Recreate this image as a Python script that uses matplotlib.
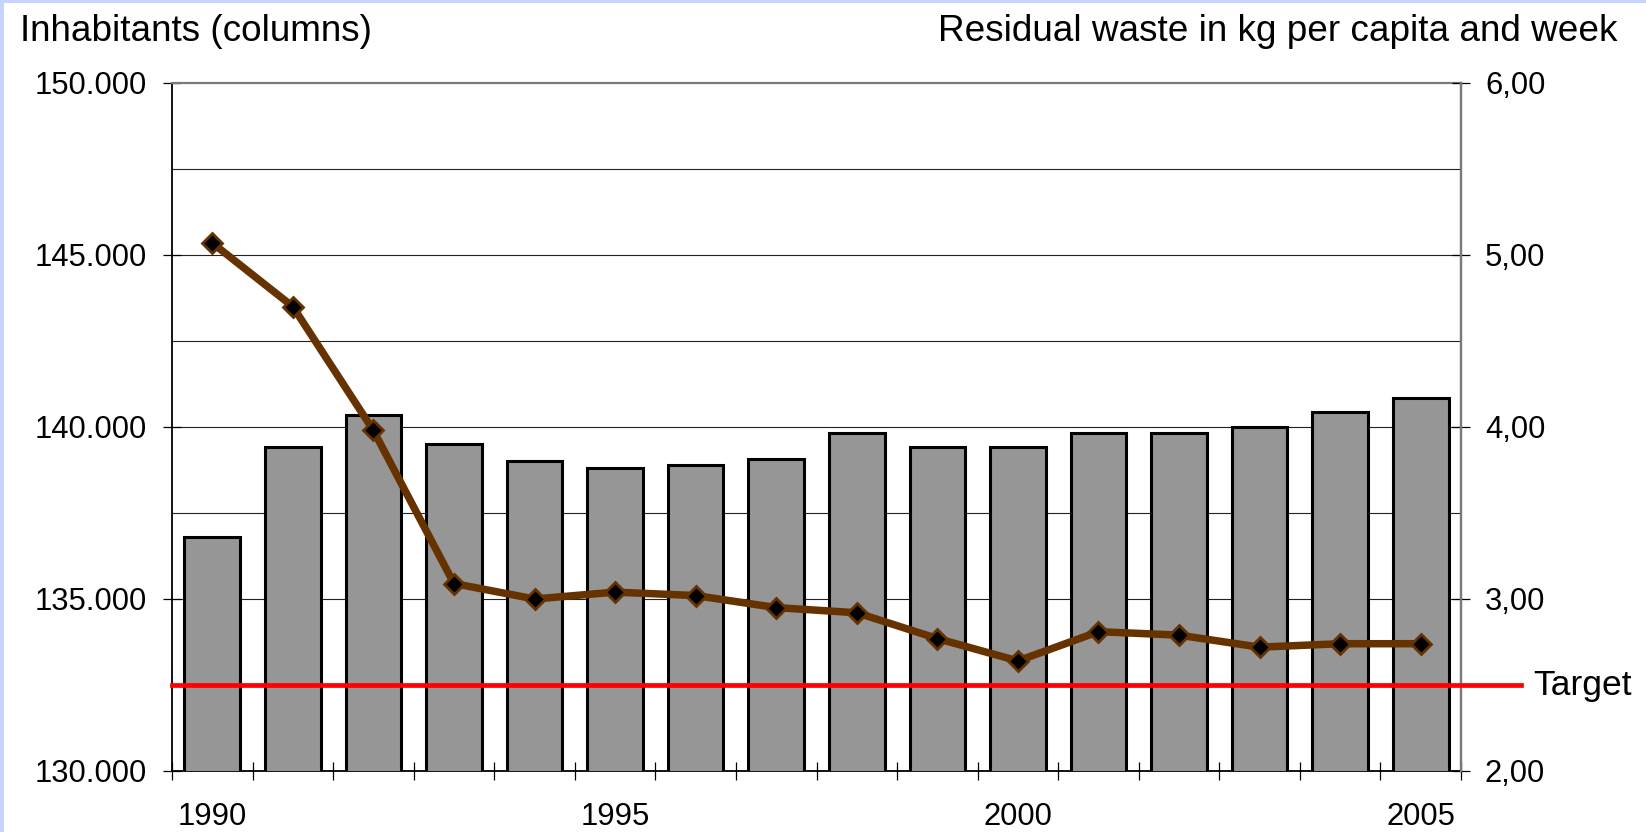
import numpy as np
import matplotlib.pyplot as plt
from matplotlib.patches import Rectangle
import matplotlib.transforms as mtransforms

plt.rcParams['font.family'] = ['Liberation Sans', 'DejaVu Sans']

# inhabitants (columns) and residual waste per capita and week (line)
years = [1990, 1991, 1992, 1993, 1994, 1995, 1996, 1997,
         1998, 1999, 2000, 2001, 2002, 2003, 2004, 2005]
inhabitants = [136800, 139410, 140340, 139500, 139000, 138820, 138900, 139080,
               139840, 139410, 139410, 139840, 139840, 140000, 140430, 140840]
waste_kg = [5.07, 4.70, 3.98, 3.09, 3.00, 3.04, 3.02, 2.95,
            2.92, 2.77, 2.64, 2.81, 2.79, 2.72, 2.74, 2.74]
target_kg = 2.5

left_ticks = [130000, 135000, 140000, 145000, 150000]
left_labels = ['130.000', '135.000', '140.000', '145.000', '150.000']
right_ticks = [2, 3, 4, 5, 6]
right_labels = ['2,00', '3,00', '4,00', '5,00', '6,00']
year_labels = ['1990', '1995', '2000', '2005']

fig = plt.figure(figsize=(16.46, 8.32), dpi=100)
fig.patch.set_facecolor('white')
# light blue slide frame at left/top
fig.patches.append(Rectangle((0, 0), 4 / 1646, 1, transform=fig.transFigure,
                             facecolor='#c6d3fa', edgecolor='none', zorder=0))
fig.patches.append(Rectangle((0, 1 - 3 / 832), 1, 3 / 832, transform=fig.transFigure,
                             facecolor='#c6d3fa', edgecolor='none', zorder=0))

ax = fig.add_axes([172 / 1646, 61 / 832, 1289 / 1646, 688 / 832])
x = np.arange(len(years))

ax.bar(x, inhabitants, width=0.69, color='#969696', edgecolor='black',
       linewidth=2.2, zorder=3)
ax.set_xlim(-0.5, len(years) - 0.5)
ax.set_ylim(130000, 150000)

# horizontal gridlines every 2500
for g in np.arange(132500, 150000, 2500):
    ax.axhline(g, color='#222222', linewidth=0.8, zorder=1)

ax.set_yticks(left_ticks)
ax.set_yticklabels(left_labels)
ax.tick_params(axis='y', direction='inout', length=12.5, width=0.9,
               labelsize=22.3, pad=11.5, colors='black')

# category boundary ticks on the x axis, year labels centred on columns
ax.set_xticks(np.arange(-0.5, len(years) + 0.5, 1))
ax.set_xticklabels([])
ax.tick_params(axis='x', which='major', direction='inout', length=12.5, width=0.9)
ax.set_xticks([years.index(int(y)) for y in year_labels], minor=True)
ax.set_xticklabels(year_labels, minor=True)
ax.tick_params(axis='x', which='minor', length=0, labelsize=22.3, pad=22)

for s in ['left', 'bottom']:
    ax.spines[s].set_color('black')
    ax.spines[s].set_linewidth(1.3)
ax.spines['top'].set_color('#7a7a7a')
ax.spines['top'].set_linewidth(1.6)
ax.spines['right'].set_color('#7a7a7a')
ax.spines['right'].set_linewidth(1.6)

ax2 = ax.twinx()
ax2.set_ylim(2, 6)
ax2.set_yticks(right_ticks)
ax2.set_yticklabels(right_labels)
ax2.tick_params(axis='y', direction='inout', length=12.5, width=0.9,
                labelsize=22.3, pad=11.0)
for s in ['left', 'bottom', 'top']:
    ax2.spines[s].set_visible(False)
ax2.spines['right'].set_color('#7a7a7a')
ax2.spines['right'].set_linewidth(1.6)

# target line runs past the right axis
ax2.axhline(target_kg, xmin=0, xmax=1349 / 1289, color='#ff0000',
            linewidth=3.4, clip_on=False, zorder=4)
trans = mtransforms.blended_transform_factory(ax2.transAxes, ax2.transData)
ax2.text(1.056, target_kg, 'Target', transform=trans, fontsize=25.5,
         va='center', ha='left')

ax2.plot(x, waste_kg, color='#663300', linewidth=5.4, marker='D',
         markersize=10.5, markerfacecolor='black', markeredgecolor='#663300',
         markeredgewidth=2, zorder=5)

fig.text(20 / 1646, 1 - 41 / 832, 'Inhabitants (columns)', fontsize=26.6,
         ha='left', va='baseline')
fig.text(1617 / 1646, 1 - 41 / 832, 'Residual waste in kg per capita and week',
         fontsize=26.6, ha='right', va='baseline')

fig.savefig('out.png', dpi=100)
